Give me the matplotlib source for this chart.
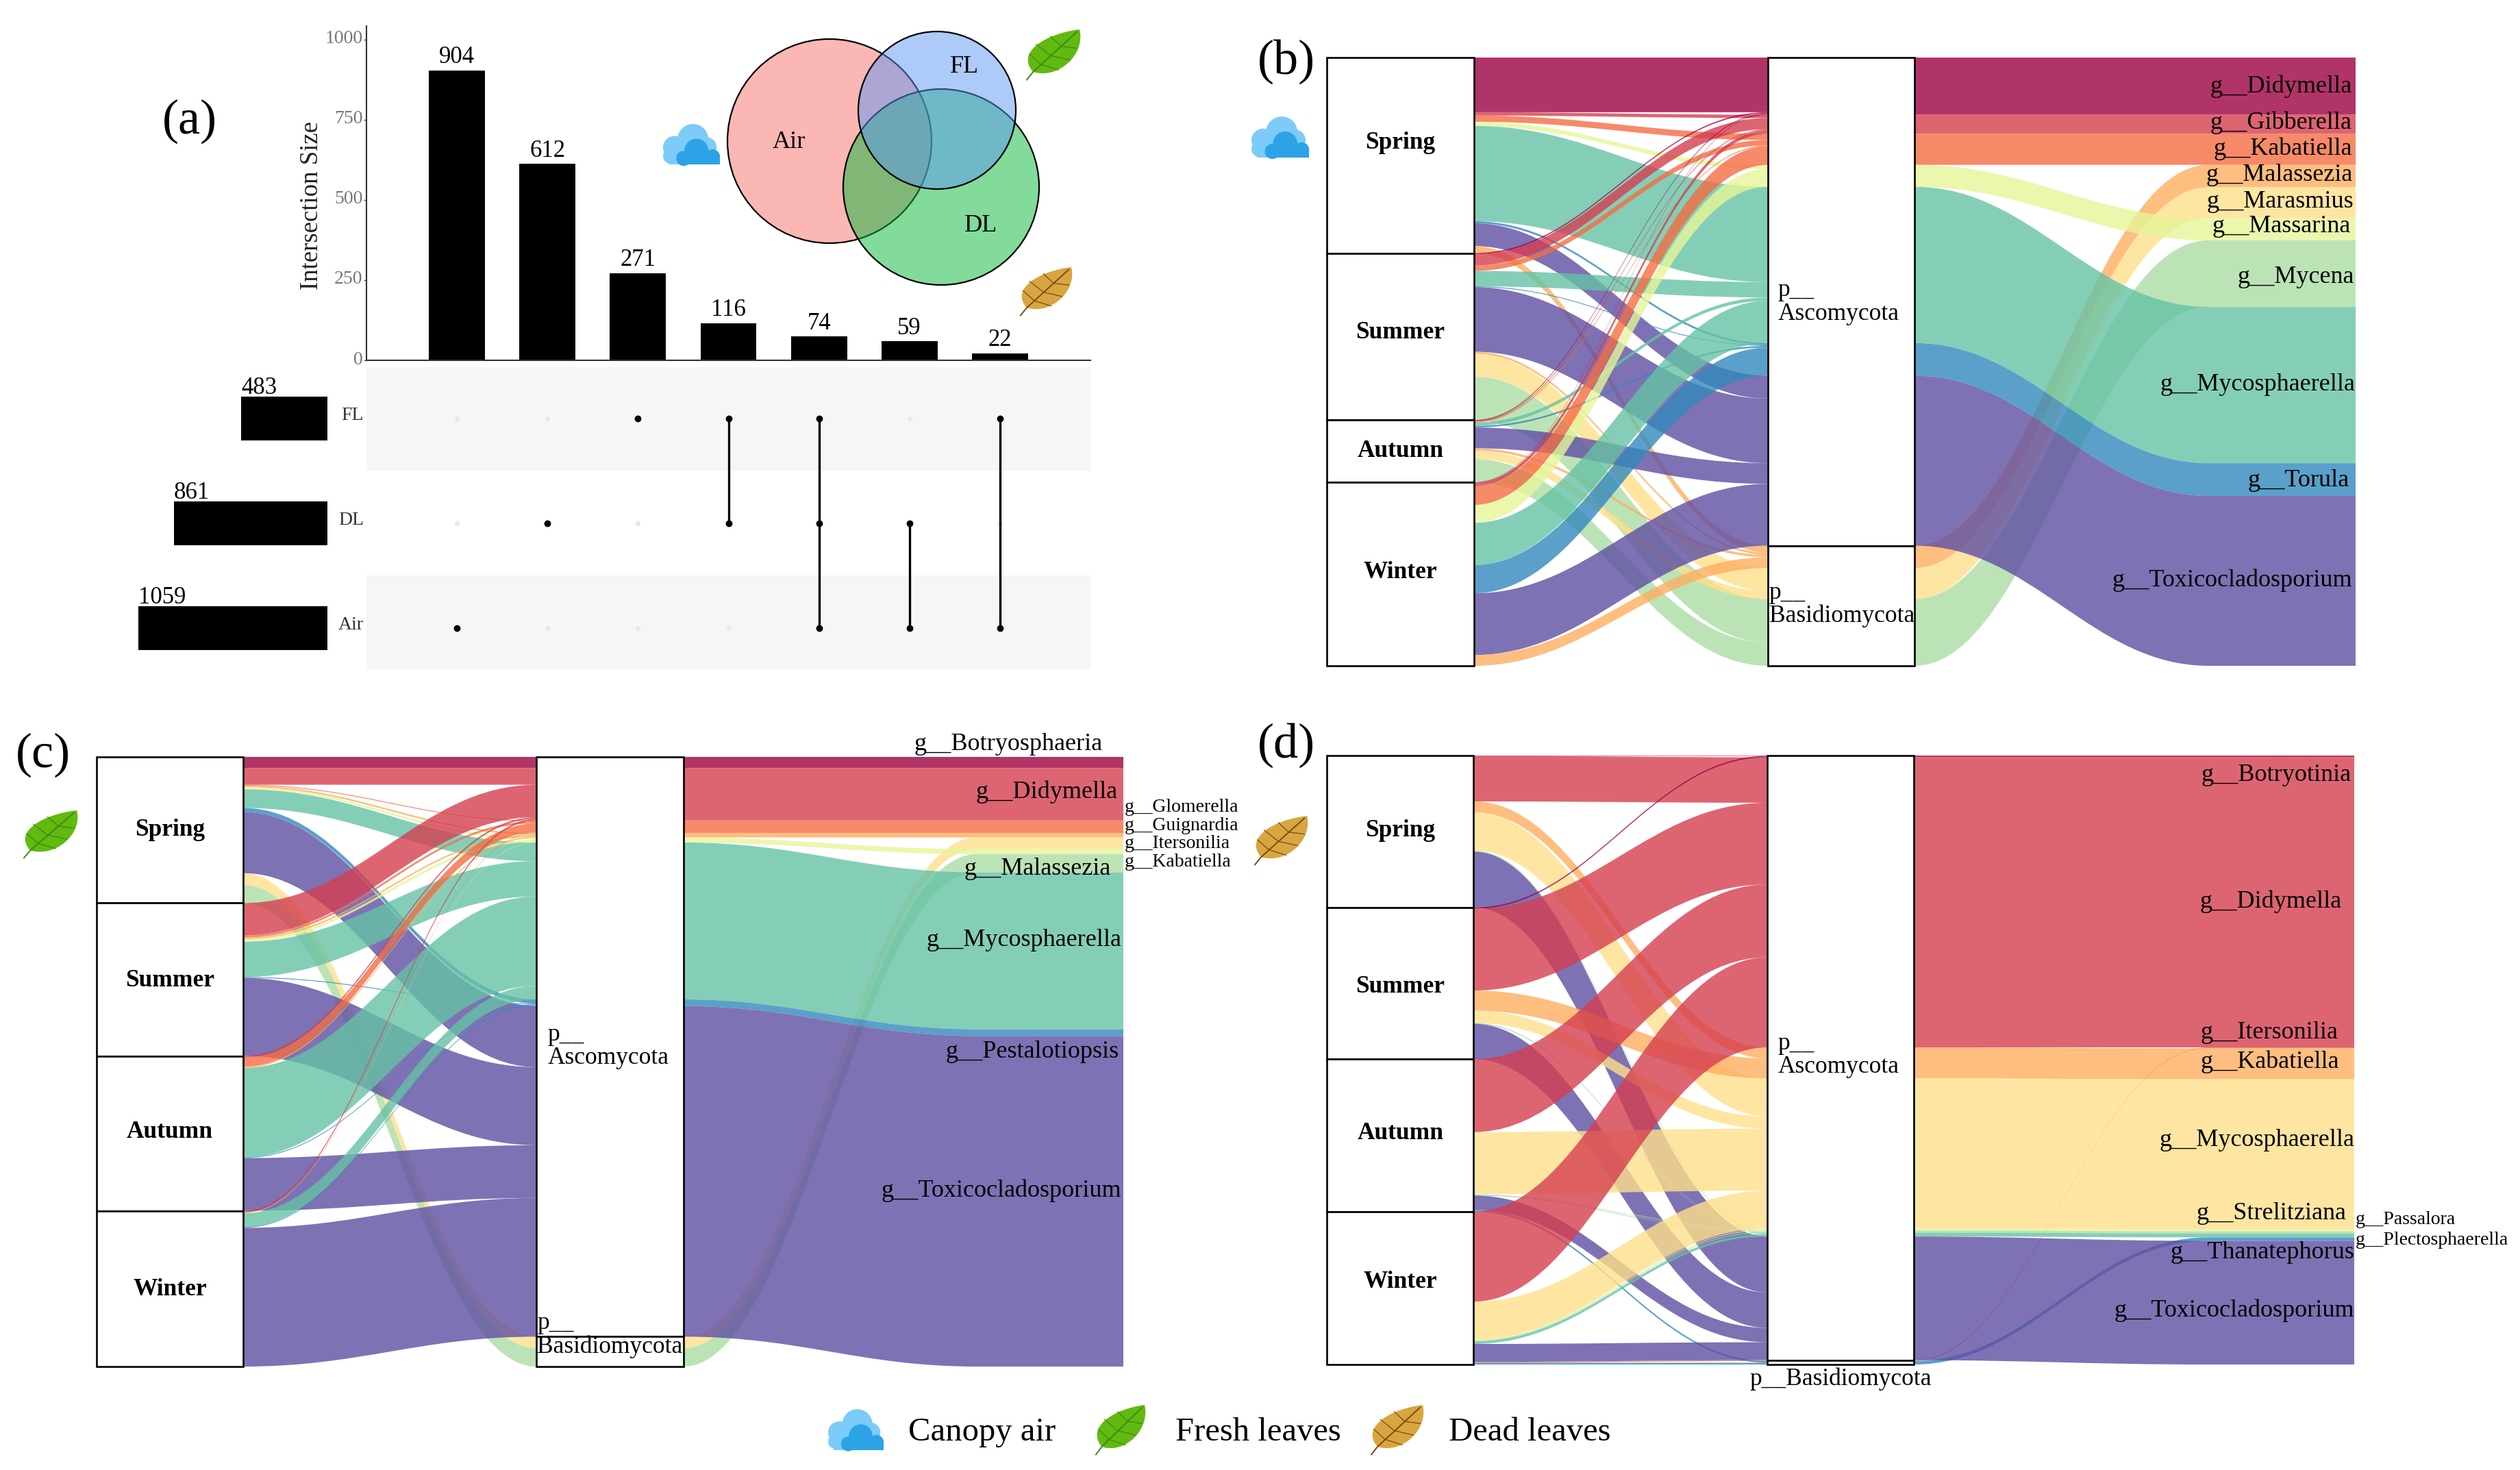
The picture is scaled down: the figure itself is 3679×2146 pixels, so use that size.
import matplotlib
matplotlib.use('Agg')
import matplotlib.pyplot as plt
from matplotlib.patches import Circle, PathPatch, Rectangle
from matplotlib.path import Path
from matplotlib.colors import to_rgba
from matplotlib.transforms import ScaledTranslation

plt.rcParams['font.family'] = ['Liberation Serif', 'DejaVu Serif']

W, H = 3680, 2146

# ---------- upset data ----------
inter_sizes = [904, 612, 271, 116, 74, 59, 22]
inter_sets = [['Air'], ['DL'], ['FL'], ['FL', 'DL'], ['FL', 'DL', 'Air'], ['DL', 'Air'], ['FL', 'Air']]
set_names = ['Air', 'DL', 'FL']
set_sizes = [1059, 861, 483]
y_ticks = [0, 250, 500, 750, 1000]

# ---------- alluvial data, colours follow alphabetical genus order ----------
seasons = ['Spring', 'Summer', 'Autumn', 'Winter']
spectral = ['#9E0142', '#D53E4F', '#F46D43', '#FDAE61', '#FEE08B',
            '#E6F598', '#ABDDA4', '#66C2A5', '#3288BD', '#5E4FA2']

b_asco = ['Didymella', 'Gibberella', 'Kabatiella', 'Massarina', 'Mycosphaerella', 'Torula', 'Toxicocladosporium']
b_basidio = ['Malassezia', 'Marasmius', 'Mycena']
b_spring = [132, 8, 15, 10, 230, 5, 55, 17, 0, 0]
b_summer = [3, 27, 13, 0, 37, 2, 156, 5, 55, 105]
b_autumn = [2, 2, 2, 0, 8, 4, 50, 6, 20, 56]
b_winter = [1, 9, 45, 43, 102, 68, 149, 26, 0, 0]

c_asco = ['Botryosphaeria', 'Didymella', 'Glomerella', 'Guignardia', 'Kabatiella', 'Mycosphaerella', 'Pestalotiopsis', 'Toxicocladosporium']
c_basidio = ['Itersonilia', 'Malassezia']
c_spring = [27, 40, 2, 4, 5, 45, 10, 147, 28, 44]
c_summer = [0, 78, 5, 4, 6, 85, 2, 188, 0, 0]
c_autumn = [0, 4, 22, 3, 0, 215, 2, 127, 0, 0]
c_winter = [0, 4, 1, 0, 1, 33, 2, 334, 0, 0]

d_asco = ['Botryotinia', 'Didymella', 'Kabatiella', 'Mycosphaerella', 'Passalora', 'Plectosphaerella', 'Strelitziana', 'Toxicocladosporium']
d_basidio = ['Itersonilia', 'Thanatephorus']
d_spring = [1, 104, 25, 87, 1, 1, 1, 128, 0, 0]
d_summer = [3, 187, 46, 28, 0, 1, 1, 81, 0, 0]
d_autumn = [0, 167, 0, 142, 1, 1, 1, 33, 0, 4]
d_winter = [0, 206, 0, 87, 2, 2, 6, 41, 2, 4]

fig = plt.figure(figsize=(W / 100, H / 100), dpi=100, facecolor='white')


def px_axes(x0, y0, x1, y1):
    return fig.add_axes([x0 / W, 1 - y1 / H, (x1 - x0) / W, (y1 - y0) / H])


def ribbon(ax, xa, xb, ya0, ya1, yb0, yb1, color, xend=None):
    k = 0.4 * (xb - xa)
    verts = [(xa, ya0), (xa + k, ya0), (xb - k, yb0), (xb, yb0)]
    codes = [Path.MOVETO, Path.CURVE4, Path.CURVE4, Path.CURVE4]
    if xend is not None:
        # carries on flat to the block at the right end
        verts += [(xend, yb0), (xend, yb1)]
        codes += [Path.LINETO, Path.LINETO]
    verts += [(xb, yb1), (xb - k, yb1), (xa + k, ya1), (xa, ya1), (xa, ya0)]
    codes += [Path.LINETO, Path.CURVE4, Path.CURVE4, Path.CURVE4, Path.CLOSEPOLY]
    ax.add_patch(PathPatch(Path(verts, codes), fc=to_rgba(color, 0.8), ec='none', lw=0))


def alluvial(box, asco, basidio, by_season, season_y, labels, small_labels, phy_labels):
    ax = px_axes(*box)
    stack = asco + basidio
    genera = sorted(stack)
    colors = {g: spectral[i] for i, g in enumerate(genera)}
    total = sum(sum(v) for v in by_season)
    half = 1 / 6
    ax.set_xlim(1 - half, 3 + half)
    ax.set_ylim(total, 0)
    ax.axis('off')

    # lode positions at the season column, then at the phylum column
    left = {}
    y = 0
    strata = []
    for s, vals in enumerate(by_season):
        start = y
        for g, v in zip(stack, vals):
            left[(s, g)] = (y, y + v)
            y += v
        strata.append((start, y))
    mid = {}
    y = 0
    phylum_edges = []
    for g in stack:
        if g == basidio[0]:
            phylum_edges.append(y)
        i = stack.index(g)
        for s, vals in enumerate(by_season):
            mid[(s, g)] = (y, y + vals[i])
            y += vals[i]
    phylum_edges.append(y)

    for (s, g), (a0, a1) in left.items():
        if a1 > a0:
            m0, m1 = mid[(s, g)]
            ribbon(ax, 1 + half, 2 - half, a0, a1, m0, m1, colors[g])

    # phylum -> genus, one ribbon per genus, ends in a filled block
    y = 0
    for g in genera:
        i = stack.index(g)
        v = sum(vals[i] for vals in by_season)
        m0 = min(mid[(s, g)][0] for s in range(4))
        ribbon(ax, 2 + half, 3 - half, m0, m0 + v, y, y + v, colors[g], xend=3 + half)
        y += v

    for (a, b), name, ly in zip(strata, seasons, season_y):
        ax.add_patch(Rectangle((1 - half, a), 2 * half, b - a, fc='white', ec='black', lw=1.9, clip_on=False, zorder=3))
        ax.text(1, ly, name, ha='center', va='center', fontsize=25.5, fontweight='bold', zorder=4)
    ax.add_patch(Rectangle((2 - half, 0), 2 * half, phylum_edges[0], fc='white', ec='black', lw=1.9, clip_on=False, zorder=3))
    ax.add_patch(Rectangle((2 - half, phylum_edges[0]), 2 * half, phylum_edges[1] - phylum_edges[0],
                           fc='white', ec='black', lw=1.9, clip_on=False, zorder=3))

    for name, ly, inset in labels:
        ax.annotate('g__' + name, xy=(3 + half, ly), xytext=(-inset * 0.72, 0), textcoords='offset points',
                    ha='right', va='center', fontsize=26, annotation_clip=False, zorder=5)
    for name, ly in small_labels:
        ax.annotate('g__' + name, xy=(3 + half, ly), xytext=(1, 0), textcoords='offset points',
                    ha='left', va='center', fontsize=20, annotation_clip=False, zorder=5)
    for txt, ly, inset in phy_labels:
        if inset is None:
            ax.text(2, ly, txt, ha='center', va='center', fontsize=25.5, zorder=5)
        else:
            ax.annotate(txt, xy=(2 - half, ly), xytext=(inset * 0.72, 0), textcoords='offset points',
                        ha='left', va='center', fontsize=25.5, linespacing=1.05, annotation_clip=False, zorder=5)
    return ax


# ---------- panel a ----------
ax = px_axes(535, 38, 1592, 526)
ax.bar(range(len(inter_sizes)), inter_sizes, width=0.62, color='black')
for i, v in enumerate(inter_sizes):
    ax.text(i, v + 6, str(v), ha='center', va='bottom', fontsize=25)
ax.set_xlim(-1, 7)
ax.set_ylim(0, 1042)
ax.set_yticks(y_ticks)
ax.set_xticks([])
ax.tick_params(axis='y', labelsize=20, labelcolor='#777777', length=3, width=1, pad=1, color='#555555')
up = ScaledTranslation(0, 4 / 100, fig.dpi_scale_trans)
for lbl in ax.get_yticklabels():
    lbl.set_transform(lbl.get_transform() + up)
for sp in ['top', 'right']:
    ax.spines[sp].set_visible(False)
for sp in ['left', 'bottom']:
    ax.spines[sp].set_linewidth(1.5)
    ax.spines[sp].set_color('#333333')
ax.set_ylabel('Intersection Size', fontsize=26.5, color='#222222')
ax.yaxis.set_label_coords(-0.06, 0.463)
ax.patch.set_alpha(0)

ax = px_axes(535, 536, 1592, 978)
ax.set_xlim(-1, 7)
ax.set_ylim(-0.4, 2.49)
ax.axhspan(1.5, 2.49, color='#f6f6f6', lw=0)
ax.axhspan(-0.4, 0.5, color='#f6f6f6', lw=0)
for i, members in enumerate(inter_sets):
    for r, name in enumerate(set_names):
        if name in members:
            ax.scatter(i, r, s=50, color='black', zorder=3, lw=0)
        else:
            ax.scatter(i, r, s=28, color='#e8e8e8', zorder=2, lw=0)
    rows = [set_names.index(m) for m in members]
    if len(rows) > 1:
        ax.plot([i, i], [min(rows), max(rows)], color='black', lw=2.4, zorder=3)
for r, name in enumerate(set_names):
    ax.annotate(name, xy=(-1, r), xytext=(-3, 3), textcoords='offset points', ha='right', va='center',
                fontsize=20, color='#333333', annotation_clip=False)
ax.set_xticks([])
ax.set_yticks([])
for sp in ax.spines.values():
    sp.set_visible(False)

ax = px_axes(202, 536, 478, 978)
ax.barh(range(3), set_sizes, height=0.42, color='black')
for r, v in enumerate(set_sizes):
    ax.text(v, r + 0.18, str(v), ha='left', va='bottom', fontsize=25)
ax.set_xlim(1059, 0)
ax.set_ylim(-0.4, 2.49)
ax.axis('off')

# ---------- panels b c d ----------
alluvial((1937, 84, 3439, 972), b_asco, b_basidio, [b_spring, b_summer, b_autumn, b_winter],
         [205, 663, 950, 1242],
         [('Didymella', 70, 5), ('Gibberella', 158, 6), ('Kabatiella', 220, 5), ('Malassezia', 283, 4),
          ('Marasmius', 348, 3), ('Massarina', 407, 7), ('Mycena', 530, 2), ('Mycosphaerella', 790, 1),
          ('Torula', 1020, 9), ('Toxicocladosporium', 1262, 5)],
         [],
         [('p__\nAscomycota', 590, 15), ('p__\nBasidiomycota', 1320, 2)])

alluvial((141, 1105, 1640, 1995), c_asco, c_basidio, [c_spring, c_summer, c_autumn, c_winter],
         [175, 538, 903, 1283],
         [('Botryosphaeria', -30, 30), ('Didymella', 85, 8), ('Malassezia', 270, 18),
          ('Mycosphaerella', 442, 3), ('Pestalotiopsis', 710, 6), ('Toxicocladosporium', 1045, 3)],
         [('Glomerella', 122), ('Guignardia', 165), ('Itersonilia', 209), ('Kabatiella', 254)],
         [('p__\nAscomycota', 697, 16), ('p__\nBasidiomycota', 1392, 1)])

alluvial((1937, 1103, 3437, 1992), d_asco, d_basidio, [d_spring, d_summer, d_autumn, d_winter],
         [172, 529, 865, 1205],
         [('Botryotinia', 44, 4), ('Didymella', 335, 18), ('Itersonilia', 634, 24), ('Kabatiella', 702, 22),
          ('Mycosphaerella', 880, 0), ('Strelitziana', 1049, 12), ('Thanatephorus', 1137, 0),
          ('Toxicocladosporium', 1270, 0)],
         [('Passalora', 1062), ('Plectosphaerella', 1109)],
         [('p__\nAscomycota', 686, 16), ('p__Basidiomycota', 1427, None)])

# ---------- overlay in pixels: venn, icons, panel letters, legend ----------
ov = fig.add_axes([0, 0, 1, 1], zorder=10)
ov.set_xlim(0, W)
ov.set_ylim(H, 0)
ov.axis('off')
ov.patch.set_alpha(0)

for (cx, cy, r, col) in [(1211, 206, 149, '#F8716A'), (1374, 273, 143, '#06B839'), (1368, 161, 115, '#5C96F5')]:
    ov.add_patch(Circle((cx, cy), r, fc=to_rgba(col, 0.5), ec='black', lw=1.6))
ov.text(1152, 208, 'Air', fontsize=26, ha='center', va='center')
ov.text(1408, 98, 'FL', fontsize=26, ha='center', va='center')
ov.text(1432, 329, 'DL', fontsize=26, ha='center', va='center')


def cloud(x0, y0, x1, y1):
    w, h = x1 - x0, y1 - y0
    light, dark = '#7CCBF9', '#2BA3E6'
    for fx, fy, fr in [(0.52, 0.34, 0.27), (0.2, 0.55, 0.2), (0.13, 0.78, 0.13), (0.75, 0.55, 0.18)]:
        ov.add_patch(Circle((x0 + fx * w, y0 + fy * h), fr * w, fc=light, ec='none'))
    ov.add_patch(Rectangle((x0 + 0.1 * w, y0 + 0.6 * h), 0.6 * w, 0.4 * h, fc=light, ec='none'))
    for fx, fy, fr in [(0.58, 0.64, 0.21), (0.86, 0.8, 0.13), (0.36, 0.84, 0.13)]:
        ov.add_patch(Circle((x0 + fx * w, y0 + fy * h), fr * w, fc=dark, ec='none'))
    ov.add_patch(Rectangle((x0 + 0.3 * w, y0 + 0.76 * h), 0.69 * w, 0.24 * h, fc=dark, ec='none'))


def leaf(x0, y0, x1, y1, fill, vein):
    w, h = x1 - x0, y1 - y0
    P = lambda fx, fy: (x0 + fx * w, y0 + fy * h)
    verts = [P(0.12, 0.86), P(-0.22, 0.45), P(0.38, 0.08), P(1.0, 0.0),
             P(1.12, 0.5), P(0.6, 1.02), P(0.12, 0.86), P(0.12, 0.86)]
    codes = [Path.MOVETO, Path.CURVE4, Path.CURVE4, Path.CURVE4,
             Path.CURVE4, Path.CURVE4, Path.CURVE4, Path.CLOSEPOLY]
    ov.add_patch(PathPatch(Path(verts, codes), fc=fill, ec='none'))
    ov.plot(*zip(P(0, 1.02), P(0.12, 0.86), P(0.95, 0.05)), color=vein, lw=1.4)
    for fx, fy, ex, ey in [(0.27, 0.71, 0.05, 0.5), (0.27, 0.71, 0.6, 0.82), (0.45, 0.53, 0.18, 0.3),
                           (0.45, 0.53, 0.82, 0.62), (0.65, 0.34, 0.45, 0.14), (0.65, 0.34, 0.95, 0.38)]:
        ov.plot(*zip(P(fx, fy), P(ex, ey)), color=vein, lw=0.9)


fresh = ('#62B90F', '#3A8A12')
dead = ('#D8A640', '#7A4A12')
cloud(968, 185, 1052, 240)
cloud(1827, 174, 1912, 230)
cloud(1209, 2060, 1291, 2117)
leaf(1499, 43, 1576, 115, *fresh)
leaf(35, 1183, 112, 1251, *fresh)
leaf(1600, 2051, 1671, 2122, *fresh)
leaf(1490, 390, 1564, 459, *dead)
leaf(1832, 1191, 1908, 1261, *dead)
leaf(2002, 2051, 2077, 2122, *dead)

for txt, x, y in [('(a)', 277, 177), ('(b)', 1878, 90), ('(c)', 63, 1102), ('(d)', 1878, 1088)]:
    ov.text(x, y, txt, fontsize=52, ha='center', va='center')

for txt, x in [('Canopy air', 1326), ('Fresh leaves', 1716), ('Dead leaves', 2115)]:
    ov.text(x, 2091, txt, fontsize=35, ha='left', va='center')

fig.savefig('out.png', dpi=100)
